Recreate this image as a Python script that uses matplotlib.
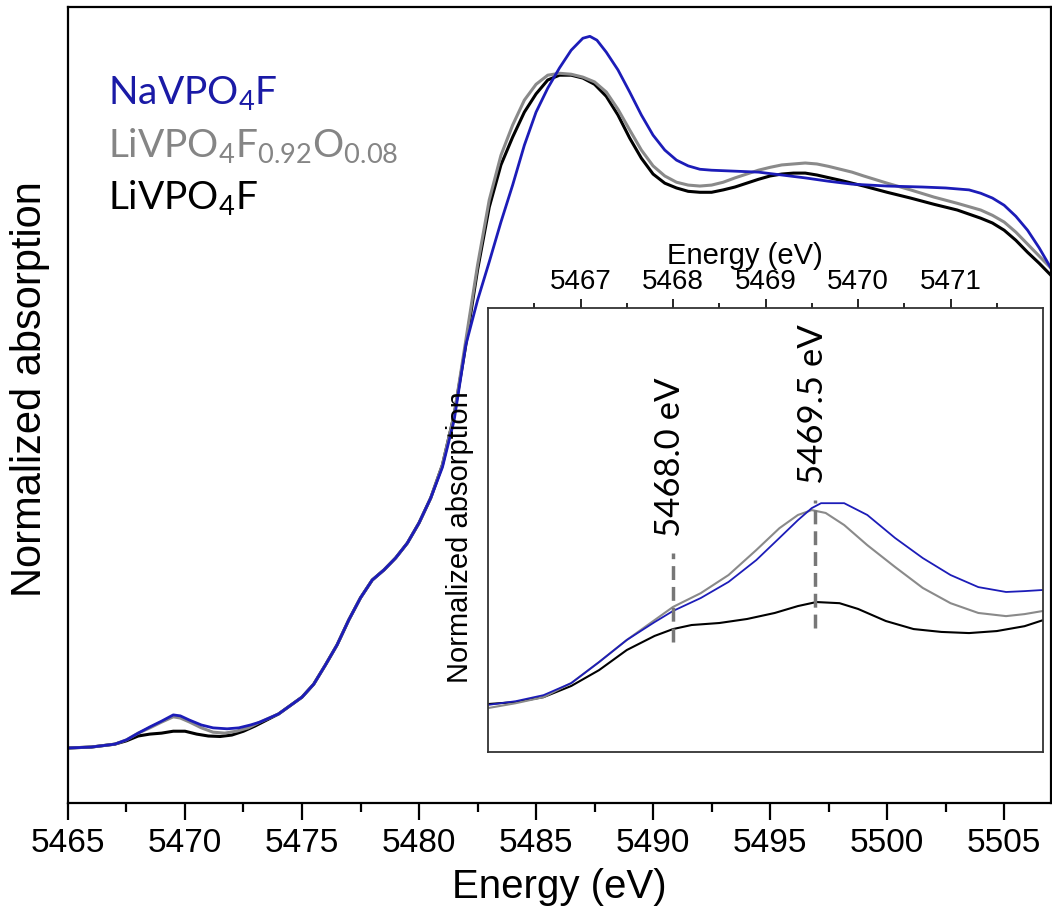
import matplotlib.pyplot as plt
from matplotlib.ticker import MultipleLocator, FixedLocator

plt.rcParams['font.family'] = ['Liberation Sans', 'DejaVu Sans']
plt.rcParams['mathtext.fontset'] = 'custom'
plt.rcParams['mathtext.rm'] = 'Lato'

# main spectra (energy in eV, normalized absorption)
e_black = [5465.0, 5466.0, 5467.0, 5467.5, 5468.0, 5468.5, 5469.0, 5469.5, 5470.0, 5470.5,
           5471.0, 5471.5, 5472.0, 5472.5, 5473.0, 5474.0, 5475.0, 5475.5, 5476.0, 5476.5,
           5477.0, 5477.5, 5478.0, 5478.5, 5479.0, 5479.5, 5480.0, 5480.5, 5481.0, 5481.5,
           5482.0, 5482.5, 5483.0, 5483.5, 5484.0, 5484.5, 5485.0, 5485.5, 5486.0, 5486.5,
           5487.0, 5487.5, 5488.0, 5488.5, 5489.0, 5489.5, 5490.0, 5490.5, 5491.0, 5491.5,
           5492.0, 5492.5, 5493.0, 5493.5, 5494.0, 5494.5, 5495.0, 5495.5, 5496.0, 5496.5,
           5497.0, 5498.0, 5499.0, 5500.0, 5501.0, 5502.0, 5503.0, 5504.0, 5504.5, 5505.0,
           5505.5, 5506.0, 5506.5, 5507.0]
y_black = [0.000, 0.002, 0.008, 0.015, 0.025, 0.029, 0.031, 0.035, 0.035, 0.029,
           0.025, 0.024, 0.027, 0.035, 0.046, 0.071, 0.106, 0.133, 0.173, 0.215,
           0.267, 0.313, 0.350, 0.371, 0.396, 0.427, 0.469, 0.521, 0.590, 0.694,
           0.840, 0.996, 1.127, 1.215, 1.273, 1.325, 1.363, 1.392, 1.402, 1.402,
           1.396, 1.383, 1.358, 1.319, 1.271, 1.229, 1.196, 1.177, 1.167, 1.160,
           1.158, 1.158, 1.163, 1.169, 1.177, 1.185, 1.192, 1.196, 1.198, 1.198,
           1.194, 1.183, 1.171, 1.158, 1.146, 1.133, 1.121, 1.104, 1.094, 1.079,
           1.058, 1.033, 1.010, 0.985]

e_gray = [5465.0, 5466.0, 5467.0, 5467.5, 5468.0, 5468.5, 5469.0, 5469.5, 5469.8, 5470.2,
          5470.7, 5471.2, 5471.7, 5472.2, 5472.7, 5473.2, 5474.0, 5475.0, 5475.5, 5476.0,
          5476.5, 5477.0, 5477.5, 5478.0, 5478.5, 5479.0, 5479.5, 5480.0, 5480.5, 5481.0,
          5481.5, 5482.0, 5482.5, 5483.0, 5483.5, 5484.0, 5484.5, 5485.0, 5485.5, 5486.0,
          5486.5, 5487.0, 5487.5, 5488.0, 5488.5, 5489.0, 5489.5, 5490.0, 5490.5, 5491.0,
          5491.5, 5492.0, 5492.5, 5493.0, 5493.5, 5494.0, 5494.5, 5495.0, 5495.5, 5496.0,
          5496.5, 5497.0, 5497.5, 5498.0, 5498.5, 5499.0, 5500.0, 5501.0, 5502.0, 5503.0,
          5504.0, 5504.5, 5505.0, 5505.5, 5506.0, 5506.5, 5507.0]
y_gray = [0.000, 0.002, 0.008, 0.017, 0.031, 0.042, 0.054, 0.065, 0.0625, 0.054,
          0.042, 0.033, 0.031, 0.035, 0.042, 0.054, 0.071, 0.106, 0.133, 0.173,
          0.215, 0.267, 0.313, 0.350, 0.371, 0.396, 0.427, 0.469, 0.521, 0.590,
          0.694, 0.850, 1.006, 1.142, 1.235, 1.298, 1.350, 1.383, 1.402, 1.406,
          1.404, 1.398, 1.388, 1.367, 1.331, 1.288, 1.246, 1.213, 1.192, 1.179,
          1.173, 1.171, 1.173, 1.179, 1.188, 1.196, 1.204, 1.210, 1.215, 1.217,
          1.219, 1.217, 1.212, 1.206, 1.200, 1.192, 1.177, 1.163, 1.148, 1.135,
          1.121, 1.110, 1.096, 1.075, 1.050, 1.025, 1.000]

e_blue = [5465.0, 5466.0, 5467.0, 5467.5, 5468.0, 5468.5, 5469.0, 5469.5, 5469.8, 5470.2,
          5470.7, 5471.2, 5471.8, 5472.3, 5472.8, 5473.2, 5474.0, 5475.0, 5475.5, 5476.0,
          5476.5, 5477.0, 5477.5, 5478.0, 5478.5, 5479.0, 5479.5, 5480.0, 5480.5, 5481.0,
          5481.5, 5482.0, 5482.5, 5483.0, 5483.5, 5484.0, 5484.5, 5485.0, 5485.5, 5486.0,
          5486.5, 5487.0, 5487.3, 5487.6, 5488.0, 5488.5, 5489.0, 5489.5, 5490.0, 5490.5,
          5491.0, 5491.5, 5492.0, 5492.5, 5493.5, 5494.5, 5495.5, 5496.5, 5497.5, 5498.5,
          5500.0, 5501.5, 5502.5, 5503.5, 5504.0, 5504.5, 5505.0, 5505.5, 5506.0, 5506.5,
          5507.0]
y_blue = [0.000, 0.002, 0.008, 0.017, 0.031, 0.044, 0.056, 0.069, 0.067, 0.058,
          0.048, 0.042, 0.040, 0.042, 0.048, 0.054, 0.071, 0.106, 0.133, 0.173,
          0.215, 0.267, 0.313, 0.350, 0.371, 0.396, 0.427, 0.469, 0.521, 0.585,
          0.683, 0.840, 0.933, 1.013, 1.096, 1.173, 1.256, 1.325, 1.375, 1.417,
          1.454, 1.479, 1.483, 1.475, 1.450, 1.413, 1.367, 1.319, 1.277, 1.246,
          1.225, 1.213, 1.206, 1.204, 1.202, 1.200, 1.194, 1.188, 1.181, 1.175,
          1.171, 1.169, 1.167, 1.163, 1.156, 1.146, 1.131, 1.108, 1.079, 1.042,
          1.000]

# inset: pre-edge region (absorption x 1e-3)
ei_black = [5466.0, 5466.3, 5466.6, 5466.9, 5467.2, 5467.5, 5467.8, 5468.0, 5468.2, 5468.5,
            5468.8, 5469.1, 5469.35, 5469.55, 5469.8, 5470.0, 5470.3, 5470.6, 5470.9, 5471.2,
            5471.5, 5471.8, 5472.0]
yi_black = [2.0, 2.7, 4.4, 8.3, 13.8, 20.8, 25.7, 28.1, 29.5, 30.2,
            31.6, 33.7, 36.1, 37.5, 37.1, 35.1, 30.9, 28.1, 27.1, 26.7,
            27.4, 29.1, 31.2]
ei_gray = [5466.0, 5466.3, 5466.6, 5466.9, 5467.2, 5467.5, 5467.8, 5468.0, 5468.3, 5468.6,
           5468.9, 5469.15, 5469.35, 5469.5, 5469.65, 5469.85, 5470.1, 5470.4, 5470.7, 5471.0,
           5471.3, 5471.6, 5471.8, 5472.0]
yi_gray = [0.6, 2.3, 4.4, 9.3, 16.6, 24.3, 31.2, 35.8, 40.6, 46.9,
           55.6, 63.2, 67.8, 69.5, 68.5, 64.3, 57.3, 49.7, 42.4, 37.1,
           33.7, 32.6, 33.3, 34.4]
ei_blue = [5466.0, 5466.3, 5466.6, 5466.9, 5467.2, 5467.5, 5467.8, 5468.0, 5468.3, 5468.6,
           5468.9, 5469.15, 5469.35, 5469.5, 5469.6, 5469.85, 5470.1, 5470.4, 5470.7, 5471.0,
           5471.3, 5471.6, 5471.8, 5472.0]
yi_blue = [1.7, 3.0, 5.1, 9.3, 16.6, 24.3, 30.5, 34.4, 38.9, 44.5,
           52.1, 59.8, 66.0, 70.2, 71.9, 71.9, 67.8, 59.8, 52.8, 46.9,
           42.7, 41.0, 41.3, 41.7]

peak_pos = [5468.0, 5469.54]
peak_text = ['5468.0 eV', '5469.5 eV']
peak_line_lo = [23.6, 28.4]
peak_line_hi = [54.5, 73.0]

inset_ticks = [5467, 5468, 5469, 5470, 5471]
inset_minor = [5466.5, 5467.5, 5468.5, 5469.5, 5470.5, 5471.5]

labels = ['NaVPO$_\\mathregular{4}$F',
          'LiVPO$_\\mathregular{4}$F$_\\mathregular{0.92}$O$_\\mathregular{0.08}$',
          'LiVPO$_\\mathregular{4}$F']
label_colors = ['#1a1aa6', '#858585', '#000000']

c_blue = '#1c1cb8'
c_gray = '#8a8a8a'
c_black = '#000000'

fig = plt.figure(figsize=(10.52, 9.15), dpi=100)
ax = fig.add_axes([0.0646, 0.1224, 0.9344, 0.8699])

ax.plot(e_black, y_black, color=c_black, lw=2.2)
ax.plot(e_gray, y_gray, color=c_gray, lw=2.2)
ax.plot(e_blue, y_blue, color=c_blue, lw=2.0)

ax.set_xlim(5465, 5507)
ax.set_ylim(-0.1146, 1.544)
ax.xaxis.set_major_locator(MultipleLocator(5))
ax.xaxis.set_minor_locator(MultipleLocator(2.5))
ax.set_yticks([])
ax.tick_params(axis='x', which='major', direction='out', length=12, width=1.6, labelsize=24, pad=6)
ax.tick_params(axis='x', which='minor', direction='out', length=6.5, width=1.6)
for s in ax.spines.values():
    s.set_linewidth(1.6)

ax.set_xlabel('Energy (eV)', fontsize=29)
ax.xaxis.set_label_coords(0.5, -0.0816)
ax.set_ylabel('Normalized absorption', fontsize=30)
ax.yaxis.set_label_coords(-0.018, 0.52)

# sample names
for i, (lab, col) in enumerate(zip(labels, label_colors)):
    ax.text(0.041, 0.877 - i * 0.066, lab, color=col, fontsize=28, family=['Lato', 'DejaVu Sans'],
            transform=ax.transAxes, ha='left', va='baseline')

# inset
axi = fig.add_axes([0.4639, 0.1781, 0.5276, 0.4852])
axi.plot(ei_black, yi_black, color=c_black, lw=1.5)
axi.plot(ei_gray, yi_gray, color=c_gray, lw=1.5)
axi.plot(ei_blue, yi_blue, color=c_blue, lw=1.3)

for x, t, lo, hi in zip(peak_pos, peak_text, peak_line_lo, peak_line_hi):
    axi.plot([x, x], [lo, hi], color='#777777', lw=2.5, ls=(0, (4, 2)))
    axi.text(x - 0.03, hi + 5.5, t, rotation=90, ha='center', va='bottom',
             fontsize=25, family=['Lato', 'DejaVu Sans'])

axi.set_xlim(5466, 5472)
axi.set_ylim(-14.7, 139.8)
axi.xaxis.tick_top()
axi.xaxis.set_label_position('top')
axi.xaxis.set_major_locator(FixedLocator(inset_ticks))
axi.xaxis.set_minor_locator(FixedLocator(inset_minor))
axi.set_yticks([])
axi.tick_params(axis='x', which='major', direction='out', length=6.5, width=1.2, labelsize=20, pad=3)
axi.tick_params(axis='x', which='minor', direction='out', length=3.5, width=1.2)
for s in axi.spines.values():
    s.set_linewidth(1.3)
    s.set_color('#333333')
axi.set_xlabel('Energy (eV)', fontsize=21)
axi.xaxis.set_label_coords(0.463, 1.10)
axi.set_ylabel('Normalized absorption', fontsize=21)
axi.yaxis.set_label_coords(-0.026, 0.484)

plt.savefig('out.png', dpi=100)
